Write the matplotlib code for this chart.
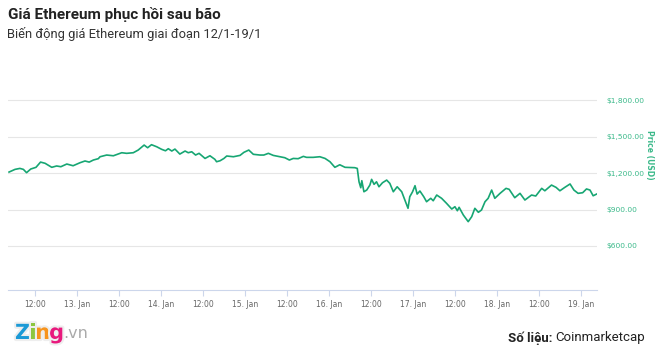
import matplotlib.pyplot as plt
import matplotlib.patheffects as pe

# hours since 12 Jan 00:00 and ETH price (USD)
hours = [4.6, 6.3, 7.7, 8.7, 9.6, 10.8, 12.3, 13.6, 14.9, 16.8, 18.2, 19.4, 21.1, 22.9,
         24.9, 26.3, 27.5, 28.7, 30.1, 30.6, 32.5, 34.4, 36.8, 38.2, 40.1, 41.5, 43.2,
         44.2, 45.3, 46.8, 48.2, 49.3, 50.1, 51.1, 52.0, 53.4, 54.9, 55.8, 56.8, 57.9,
         58.9, 60.6, 62.0, 63.4, 63.9, 64.9, 66.0, 66.8, 68.7, 70.6, 71.7, 73.1, 74.4,
         76.3, 77.4, 78.7, 80.1, 82.0, 83.4, 84.7, 85.8, 87.2, 88.7, 89.6, 91.5, 93.4,
         94.9, 96.3, 97.7, 99.1, 100.6, 103.4, 104.1, 104.6, 105.1, 105.4, 106.0, 106.8,
         107.7, 108.2, 108.9, 109.6, 110.3, 111.3, 112.5, 113.4, 114.4, 115.5, 116.8,
         117.4, 118.6, 119.1, 119.9, 120.6, 121.2, 122.0, 123.1, 123.9, 125.1, 125.8,
         126.8, 128.2, 129.6, 131.1, 132.0, 132.7, 133.2, 134.4, 135.8, 136.8, 137.7,
         138.7, 139.6, 140.6, 141.5, 142.5, 143.4, 144.9, 146.6, 147.5, 149.1, 150.6,
         152.0, 153.9, 155.1, 156.8, 157.7, 159.6, 160.9, 162.0, 163.4, 164.9, 166.0,
         167.2, 168.5, 169.6, 170.6, 171.5, 172.5]
price = [1208, 1230, 1238, 1230, 1203, 1233, 1247, 1290, 1280, 1247, 1258, 1252, 1274, 1260,
         1285, 1299, 1290, 1307, 1318, 1334, 1348, 1342, 1367, 1362, 1367, 1389, 1430,
         1408, 1433, 1416, 1395, 1383, 1400, 1381, 1397, 1356, 1381, 1367, 1375, 1348,
         1362, 1320, 1342, 1313, 1293, 1301, 1320, 1340, 1334, 1345, 1370, 1389, 1354,
         1348, 1348, 1362, 1345, 1334, 1326, 1307, 1320, 1318, 1337, 1329, 1329, 1334,
         1320, 1293, 1247, 1268, 1247, 1244, 1238, 1128, 1079, 1137, 1046, 1060,
         1101, 1148, 1107, 1128, 1087, 1120, 1142, 1115, 1046, 1087, 1046,
         1000, 910, 1005, 1046, 1096, 1027, 1052, 1005, 964, 992, 972,
         1019, 992, 951, 904, 923, 890, 918, 855, 800, 841, 910,
         877, 896, 964, 992, 1060, 992, 1033, 1074, 1066, 997, 1033,
         978, 1019, 1011, 1074, 1054, 1101, 1082, 1054, 1082, 1110, 1060,
         1033, 1038, 1069, 1060, 1013, 1027]

tick_hours = list(range(12, 169, 12))
tick_labels = ['12:00', '13. Jan', '12:00', '14. Jan', '12:00', '15. Jan', '12:00', '16. Jan',
               '12:00', '17. Jan', '12:00', '18. Jan', '12:00', '19. Jan']
y_ticks = [600, 900, 1200, 1500, 1800]
y_labels = ['$600.00', '$900.00', '$1,200.00', '$1,500.00', '$1,800.00']

green = '#17a673'
fig = plt.figure(figsize=(6.6, 3.56), dpi=100)
ax = fig.add_axes([8 / 660, 66 / 356, 589 / 660, 196 / 356])

ax.plot(hours, price, color=green, lw=1.2)
ax.set_xlim(4.3, 172.6)
ax.set_ylim(238, 1850)

ax.set_xticks(tick_hours)
ax.set_xticklabels(tick_labels, fontsize=5.5, color='#666666')
ax.set_yticks(y_ticks)
ax.set_yticklabels(y_labels, fontsize=5.4, color='#3bb98a', ha='left')
ax.yaxis.tick_right()
ax.tick_params(axis='y', length=0, pad=7)
ax.tick_params(axis='x', length=4, color='#ccd6eb', pad=3)
ax.grid(axis='y', color='#e6e6e6', lw=0.8)
ax.set_axisbelow(True)
for s in ['top', 'left', 'right']:
    ax.spines[s].set_visible(False)
ax.spines['bottom'].set_color('#ccd6eb')
ax.spines['bottom'].set_linewidth(0.8)

fig.text(650 / 660, 1 - 155 / 356, 'Price (USD)', rotation=-90, fontsize=5.5,
         fontweight='bold', color='#3bb98a', ha='center', va='center')

fig.text(8 / 660, 1 - 15 / 356, 'Giá Ethereum phục hồi sau bão', fontsize=11,
         fontweight='bold', family='Roboto', color='#222222', va='center')
fig.text(7 / 660, 1 - 34 / 356, 'Biến động giá Ethereum giai đoạn 12/1-19/1', fontsize=9.3,
         family='Roboto', color='#333333', va='center')

# footer
fig.text(645 / 660, 1 - 338 / 356, 'Coinmarketcap', fontsize=9.5, family='Roboto',
         color='#222222', ha='right', va='center')
t = fig.text(645 / 660, 1 - 338 / 356, 'Số liệu: ', fontsize=9.5, family='Roboto',
             fontweight='bold', color='#222222', ha='right', va='center')
fig.canvas.draw()
w = fig.texts[-2].get_window_extent().width
t.set_position((645 / 660 - w / 660, 1 - 338 / 356))

x0 = 15
for ch, col in zip('Zing', ['#1c9ad6', '#8dc63f', '#f7941d', '#e8197d']):
    tx = fig.text(x0 / 660, 1 - 333 / 356, ch, fontsize=15, fontweight='bold',
                  color=col, va='center', family='DejaVu Sans')
    tx.set_path_effects([pe.withStroke(linewidth=3, foreground='#eeeeee')])
    fig.canvas.draw()
    x0 += tx.get_window_extent().width - 1
fig.text(x0 / 660, 1 - 333 / 356, '.vn', fontsize=11.5, color='#aaaaaa', va='center')

fig.savefig('out.png', dpi=100)
